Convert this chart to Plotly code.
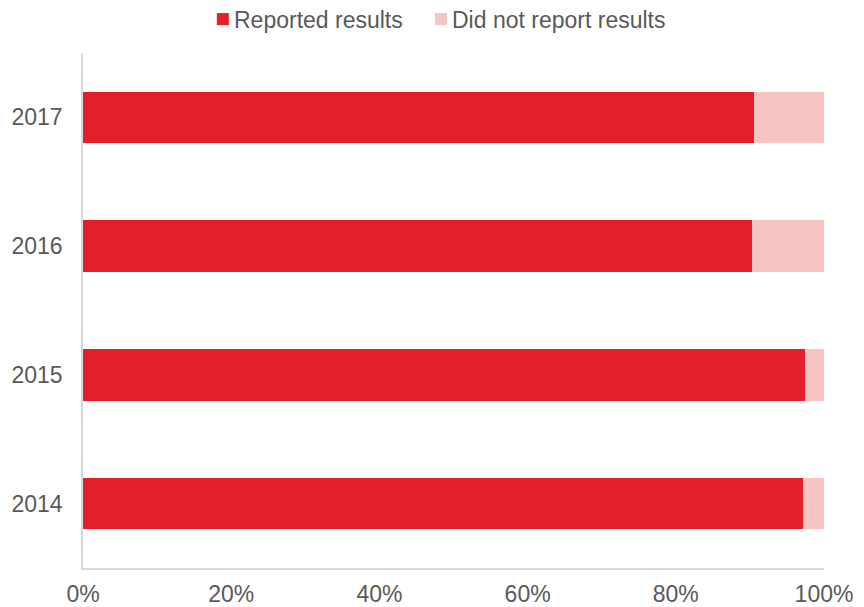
import plotly.graph_objects as go

years = ["2014", "2015", "2016", "2017"]
reported = [97.1, 97.4, 90.3, 90.6]
not_reported = [round(100 - v, 1) for v in reported]
series_names = ["Reported results", "Did not report results"]

RED = "#E3202A"
PINK = "#F7C4C4"
GREY_TEXT = "#595959"
AXIS_LINE = "#D9D9D9"
FONT = "Liberation Sans, Arial, sans-serif"
FS = 23

fig = go.Figure()
fig.add_trace(go.Bar(
    y=years, x=reported, orientation="h", name=series_names[0],
    marker=dict(color=RED, line=dict(width=0)), showlegend=False,
))
fig.add_trace(go.Bar(
    y=years, x=not_reported, orientation="h", name=series_names[1],
    marker=dict(color=PINK, line=dict(width=0)), showlegend=False,
))

# Legend row above the plot: colour square + label for each series
legend_items = [
    (series_names[0], RED, 0.1806, 0.1968, 0.2009),
    (series_names[1], PINK, 0.4750, 0.4912, 0.4953),
]
for name, color, sx0, sx1, tx in legend_items:
    fig.add_shape(type="rect", xref="paper", yref="paper",
                  x0=sx0, x1=sx1, y0=1.0542, y1=1.0775,
                  fillcolor=color, line=dict(width=0))
    fig.add_annotation(text=name, xref="paper", yref="paper",
                       x=tx, y=1.0643, xanchor="left", yanchor="middle",
                       showarrow=False, font=dict(size=FS, color=GREY_TEXT))

fig.update_layout(
    width=864, height=607,
    barmode="stack", bargap=0.6,
    plot_bgcolor="white", paper_bgcolor="white",
    margin=dict(l=83, r=40, t=53, b=39, pad=0),
    font=dict(family=FONT, size=FS, color=GREY_TEXT),
    showlegend=False,
    xaxis=dict(
        range=[0, 100], tickvals=[0, 20, 40, 60, 80, 100],
        ticktext=["0%", "20%", "40%", "60%", "80%", "100%"],
        showgrid=False, zeroline=False, automargin=False,
        showline=True, linecolor=AXIS_LINE, linewidth=1.5,
        ticks="outside", ticklen=5, tickcolor="rgba(0,0,0,0)",
        tickfont=dict(size=FS, color=GREY_TEXT),
    ),
    yaxis=dict(
        categoryorder="array", categoryarray=years,
        showgrid=False, zeroline=False, automargin=False,
        showline=True, linecolor=AXIS_LINE, linewidth=1.5,
        ticks="outside", ticklen=14, tickcolor="rgba(0,0,0,0)",
        tickfont=dict(size=FS, color=GREY_TEXT),
    ),
)

fig.write_html("out.html")
